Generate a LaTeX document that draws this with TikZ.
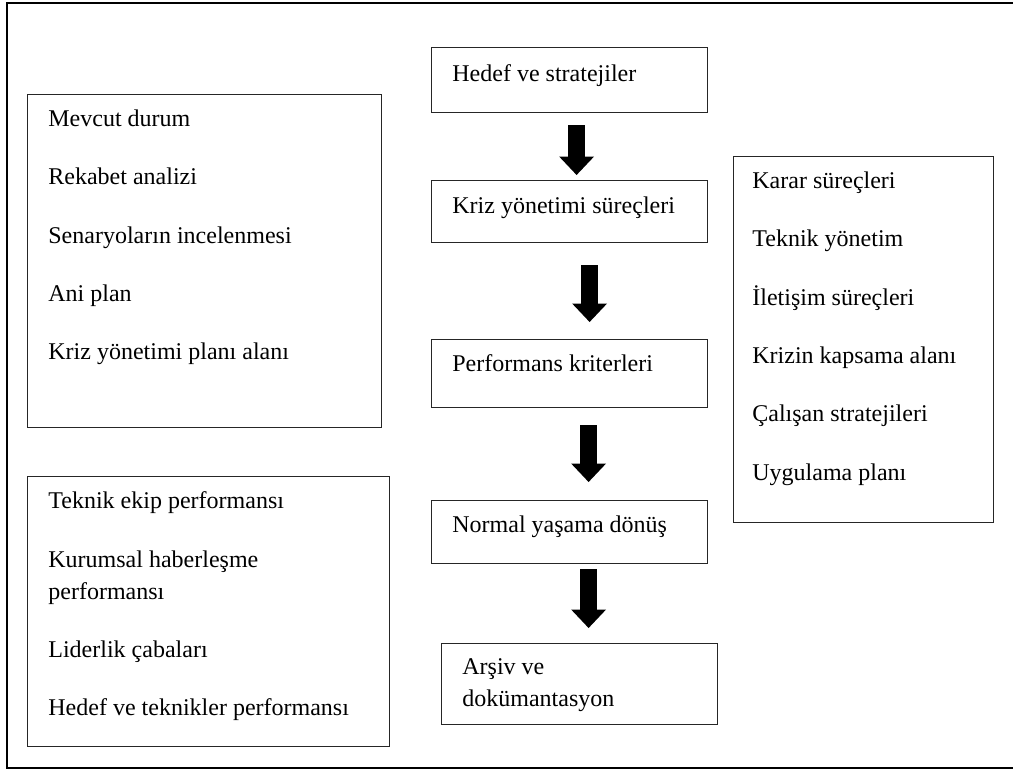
\documentclass[tikz,border=0pt]{standalone}
\usepackage{fontspec}
\setmainfont{Liberation Serif}
\usetikzlibrary{arrows.meta}

\tikzset{
    kutu/.style={draw=black!85, line width=0.6pt, rectangle, inner sep=0pt, anchor=north west},
    yazi/.style={anchor=north west, inner sep=0pt, align=left, font=\fontsize{12pt}{16pt}\selectfont},
    blokok/.style={line width=8.5pt, -{Triangle[width=17.5pt,length=9.25pt,line width=0pt]}}
}

\begin{document}
\begin{tikzpicture}[x=0.5pt, y=-0.5pt]
        \useasboundingbox (0,0) rectangle (1013,771);
        \pgfmathsetmacro{\gap}{13.15}

        % dis cerceve
        \draw [line width=1pt] (1013,3) -- (7,3) -- (7,768) -- (1013,768);

        % orta sutun
        \node [kutu, minimum width=138pt, minimum height=32.5pt] (hedef) at (431,47) {};
        \node [yazi] (hedefyazi) at (452,64.6) {Hedef ve stratejiler};
        \node [kutu, minimum width=138pt, minimum height=31pt] (kriz) at (431,180) {};
        \node [yazi] (krizyazi) at (452,196.6) {Kriz yönetimi süreçleri};
        \node [kutu, minimum width=138pt, minimum height=34pt] (perf) at (431,339) {};
        \node [yazi] (perfyazi) at (452,354.6) {Performans kriterleri};
        \node [kutu, minimum width=138pt, minimum height=31.5pt] (normal) at (431,500) {};
        \node [yazi] (normalyazi) at (452,515.6) {Normal yaşama dönüş};
        \node [kutu, minimum width=138pt, minimum height=40.5pt] (arsiv) at (441,643) {};
        \node [yazi] (arsivyazi) at (462,658.6) {Arşiv ve\\dokümantasyon};

        % sol kutular
        \node [kutu, minimum width=177pt, minimum height=166.5pt] (sol) at (27,94) {};
        \node [yazi] (solyazi) at (48,109.6) {Mevcut durum\\[\gap pt]Rekabet analizi\\[\gap pt]Senaryoların incelenmesi\\[\gap pt]Ani plan\\[\gap pt]Kriz yönetimi planı alanı};
        \node [kutu, minimum width=181pt, minimum height=135pt] (solalt) at (27,476) {};
        \node [yazi] (solaltyazi) at (48,491.6) {Teknik ekip performansı\\[\gap pt]Kurumsal haberleşme\\performansı\\[\gap pt]Liderlik çabaları\\[\gap pt]Hedef ve teknikler performansı};

        % sag kutu
        \node [kutu, minimum width=130pt, minimum height=183pt] (sag) at (733,156) {};
        \node [yazi] (sagyazi) at (752,171.6) {Karar süreçleri\\[\gap pt]Teknik yönetim\\[\gap pt]İletişim süreçleri\\[\gap pt]Krizin kapsama alanı\\[\gap pt]Çalışan stratejileri\\[\gap pt]Uygulama planı};

        % oklar
        \draw [blokok, shorten <=6pt, shorten >=2.5pt] ([xshift=3.5pt]hedef.south) -- ([xshift=3.5pt]hedef.south |- kriz.north);
        \draw [blokok, shorten <=11pt, shorten >=8.5pt] ([xshift=10pt]kriz.south) -- ([xshift=10pt]kriz.south |- perf.north);
        \draw [blokok, shorten <=8.5pt, shorten >=9pt] ([xshift=9.5pt]perf.south) -- ([xshift=9.5pt]perf.south |- normal.north);
        \draw [blokok, shorten <=2.5pt, shorten >=7.5pt] ([xshift=9.5pt]normal.south) -- ([xshift=9.5pt]normal.south |- arsiv.north);
    \end{tikzpicture}
\end{document}
